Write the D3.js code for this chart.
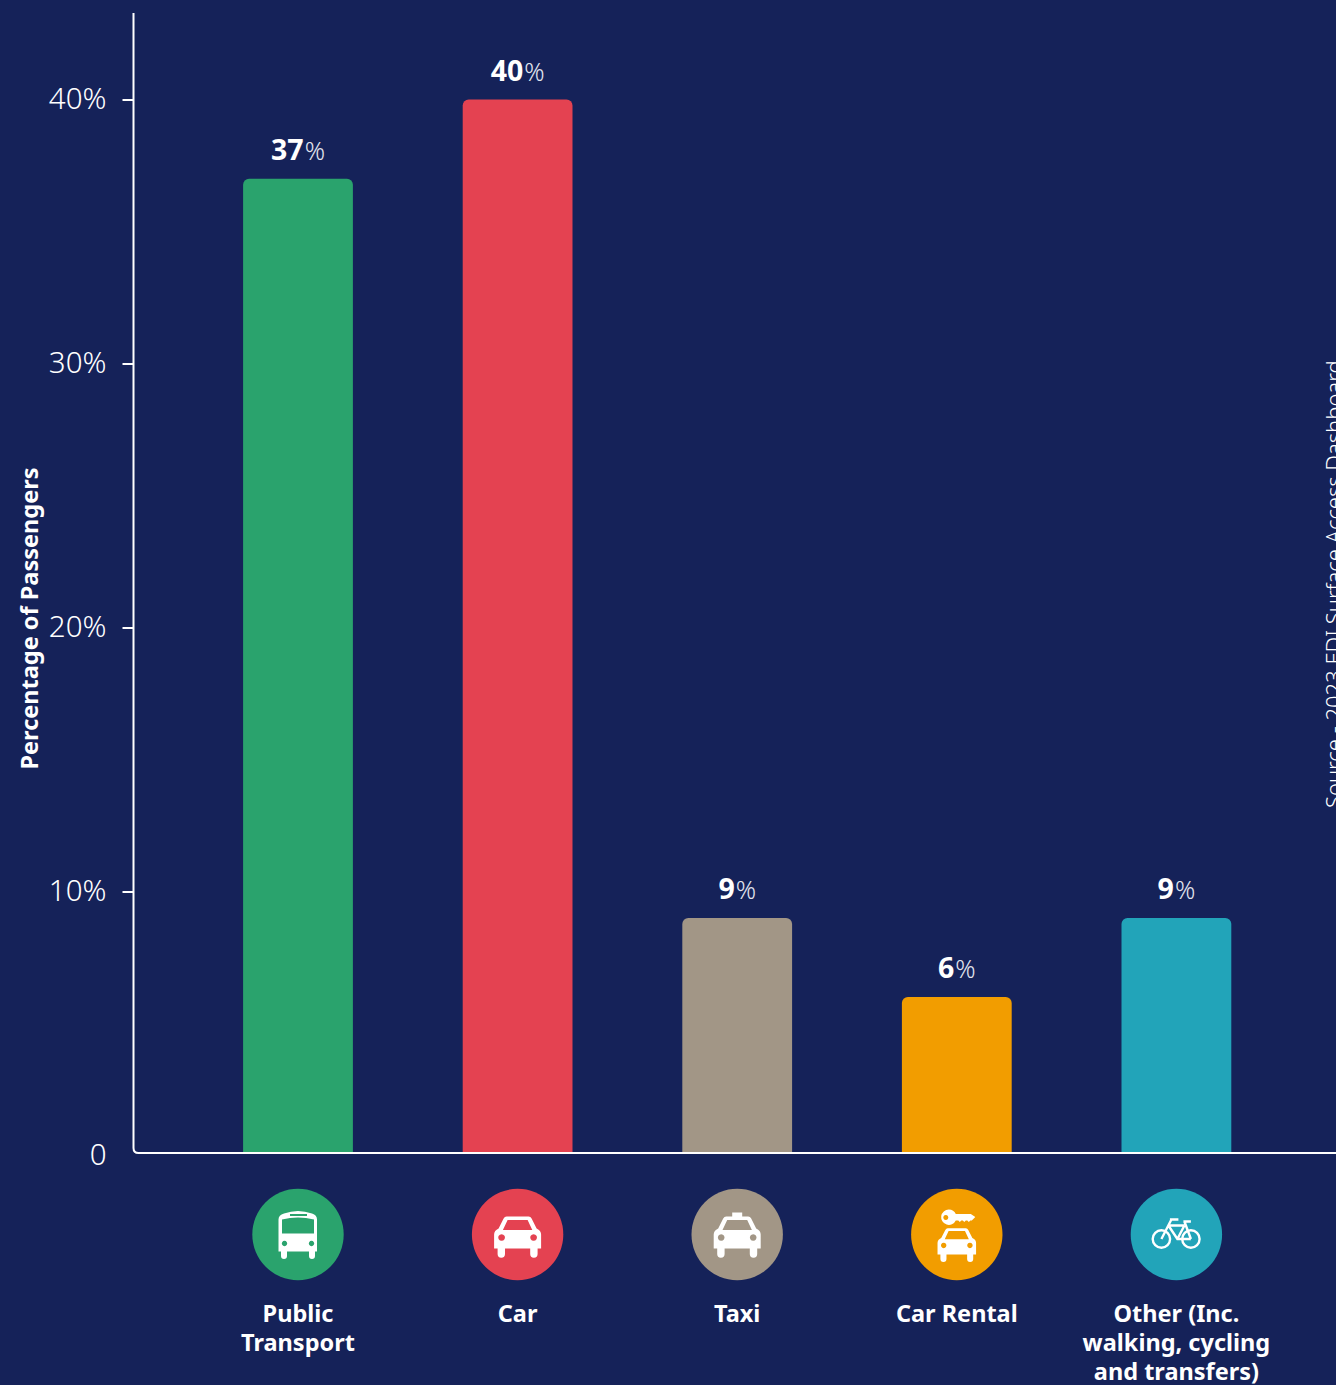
<!DOCTYPE html>
<html><head><meta charset="utf-8">
<script src="https://cdn.jsdelivr.net/npm/d3@7"></script>
<style>
html,body{margin:0;padding:0;background:#152259;overflow:hidden}
svg{display:block}
text{font-family:"Noto Sans",sans-serif;fill:#fff}
</style></head><body>
<svg id="c" width="1336" height="1385"></svg>
<script>
const categories = ["Public Transport","Car","Taxi","Car Rental","Other (Inc. walking, cycling and transfers)"];
const categoryLines = [["Public","Transport"],["Car"],["Taxi"],["Car Rental"],["Other (Inc.","walking, cycling","and transfers)"]];
const values = [37,40,9,6,9];
const colors = ["#2aa36d","#e44251","#a29686","#f29d00","#22a4b9"];
const yTicks = [0,10,20,30,40];
const yTitle = "Percentage of Passengers";
const sourceNote = "Source - 2023 EDI Surface Access Dashboard";

// icon glyphs, drawn around the centre of each badge
const carBody = "M-11-18H11Q13-18 14-16L19-6Q23.500-4 23.500 0V14H20V19.500A3.700 3.700 0 0 1 12.600 19.500V14H-12.600V19.500A3.700 3.700 0 0 1-20 19.500V14H-23.500V0Q-23.500-4-19-6L-14-16Q-13-18-11-18ZM-10-14.500L-14.700-4.500H14.700L10-14.500ZM-16-.3A3.300 3.300 0 1 0-15.990-.3ZM16-.3A3.300 3.300 0 1 0 16.010-.3Z";
const busBody = "M-14-21Q0-26 14-21Q19-19.500 19-15V17H17V21.500A3 3 0 0 1 11 21.500V17H-11V21.500A3 3 0 0 1-17 21.500V17H-19.500V-15Q-19.500-19.500-14-21ZM-8-20.500V-18.500H9V-20.500ZM-16-15V-1H16V-15Q8-17 0-17Q-8-17-16-15ZM-13.500 6.300A2.700 2.700 0 1 0-13.490 6.300ZM13.500 6.300A2.700 2.700 0 1 0 13.510 6.300Z";
const taxiLamp = "M-5-22H5V-17H-5Z";
const keyBody = "M-8-25A7.700 7.700 0 0 1-1-20.500H14L18.500-17.500L15-14H13.500L12-12.500L10.500-14H9L7.500-12.500L6-14H4.500L3-12.500L1.500-14H-1A7.700 7.700 0 1 1-8-25ZM-11-19.500A2.500 2.500 0 1 0-10.990-19.500Z";
const bikeFrame = "M-6.500-15H2M-5-15L-15 4.500M-8-9H8M7-13H14.500M8-13L14.500 4.500M8-9L1 4.500M-8-9L1 4.500H14.500";

const svg = d3.select("#c");
const x = d3.scaleBand().domain(categories).range([188.2,1286.2]).paddingInner(0.5).paddingOuter(0.25);
const y = d3.scaleLinear().domain([0,40]).range([1155.5,99.5]);
const baseY = y(0)-2.5, axisX = 133.5;

svg.append("rect").attr("width",1336).attr("height",1385).attr("fill","#152259");
svg.append("clipPath").attr("id","plot").append("rect").attr("x",0).attr("y",0).attr("width",1336).attr("height",baseY);

// bars
svg.append("g").attr("clip-path","url(#plot)").selectAll("rect").data(categories).join("rect")
  .attr("x",d=>x(d)).attr("width",x.bandwidth())
  .attr("y",(d,i)=>y(values[i])).attr("height",(d,i)=>y(0)-y(values[i])+8)
  .attr("rx",6).attr("fill",(d,i)=>colors[i]);

// axes
const ax = svg.append("g").attr("transform",`translate(${axisX},0)`)
  .call(d3.axisLeft(y).tickValues(yTicks).tickFormat(d=>d===0?"0":d+"%").tickSize(11).tickPadding(16));
ax.select(".domain").remove();
ax.selectAll("line").attr("stroke","#fff").attr("stroke-width",2).attr("opacity",d=>d===0?0:1);
ax.selectAll("text").attr("font-size",29.5).attr("font-weight",300).attr("fill","#e2e5ee").style("font-family",'"Noto Sans",sans-serif');
svg.append("path").attr("fill","none").attr("stroke","#fff").attr("stroke-width",2)
  .attr("d",`M${axisX} 13V${baseY-5}Q${axisX} ${baseY} ${axisX+5} ${baseY}H1336`);

// value labels
const vl = svg.append("g").selectAll("text").data(categories).join("text")
  .attr("x",d=>x(d)+x.bandwidth()/2).attr("y",(d,i)=>y(values[i])-19)
  .attr("text-anchor","middle").attr("font-size",28.5);
vl.append("tspan").attr("font-weight",700).text((d,i)=>values[i]);
vl.append("tspan").attr("font-weight",300).attr("font-size",25).attr("dx",1).attr("fill","#e2e5ee").text("%");

// badges
const badge = svg.append("g").selectAll("g").data(categories).join("g")
  .attr("transform",d=>`translate(${x(d)+x.bandwidth()/2},1234.5)`);
badge.append("circle").attr("r",45.7).attr("fill",(d,i)=>colors[i]);
const fillPath = (sel,d)=>sel.append("path").attr("d",d).attr("fill","#fff").attr("fill-rule","evenodd");
fillPath(badge.filter((d,i)=>i===0),busBody);
fillPath(badge.filter((d,i)=>i===1),carBody);
const taxi = badge.filter((d,i)=>i===2); fillPath(taxi,carBody); fillPath(taxi,taxiLamp);
const rent = badge.filter((d,i)=>i===3); fillPath(rent,keyBody);
rent.append("path").attr("d",carBody).attr("fill","#fff").attr("fill-rule","evenodd").attr("transform","translate(0,8.500) scale(.82)");
const bike = badge.filter((d,i)=>i===4).append("g").attr("fill","none").attr("stroke","#fff").attr("stroke-width",2.4);
bike.append("circle").attr("cx",-15).attr("cy",4.5).attr("r",8.7);
bike.append("circle").attr("cx",14.5).attr("cy",4.5).attr("r",8.7);
bike.append("path").attr("d",bikeFrame);

// category labels
svg.append("g").selectAll("text").data(categories).join("text")
  .attr("text-anchor","middle").attr("font-size",23.5).attr("font-weight",700)
  .attr("transform",d=>`translate(${x(d)+x.bandwidth()/2},0)`)
  .selectAll("tspan").data((d,i)=>categoryLines[i]).join("tspan")
  .attr("x",0).attr("y",(d,i)=>1321.5+i*29).text(d=>d);

// axis title and source
svg.append("text").attr("transform","translate(37.500,618.500) rotate(-90)").attr("text-anchor","middle")
  .attr("font-size",23.5).attr("font-weight",700).text(yTitle);
svg.append("text").attr("transform","translate(1342,808) rotate(-90)").attr("font-size",22).attr("font-weight",300)
  .attr("fill","#c9cde0").text(sourceNote);
</script></body></html>
